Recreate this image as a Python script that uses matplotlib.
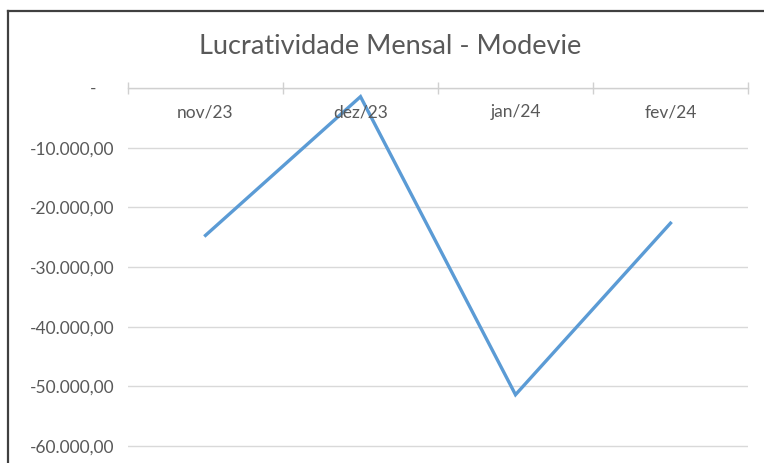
import matplotlib
matplotlib.use("Agg")
import matplotlib.pyplot as plt
from matplotlib.lines import Line2D

# data
meses = ["nov/23", "dez/23", "jan/24", "fev/24"]
lucro = [-24700, -1450, -51400, -22650]
y_ticks = [0, -10000, -20000, -30000, -40000, -50000, -60000]

titulo = "Lucratividade Mensal - Modevie"

plt.rcParams['font.family'] = ['Lato', 'DejaVu Sans']

def fmt_br(v):
    if v == 0:
        return "-    "
    s = f"{v:,.2f}"
    return s.replace(",", "X").replace(".", ",").replace("X", ".")

fig = plt.figure(figsize=(7.64, 4.63), dpi=100)
# 0 sits at y=88px, -60000 at y=446px; axes runs a bit lower so the last gridline shows
ax = fig.add_axes([128 / 764, 1 - 452 / 463, 620 / 764, (452 - 88) / 463])

x = list(range(len(meses)))
ax.plot(x, lucro, color="#5B9BD5", linewidth=2.4, solid_joinstyle="miter", zorder=3)

ax.set_xlim(-0.5, len(meses) - 0.5)
ax.set_ylim(-61000, 0)
ax.set_yticks(y_ticks)
ax.set_yticklabels([fmt_br(v) for v in y_ticks])
ax.tick_params(axis="y", length=0, pad=10, labelsize=12.5, labelcolor="#595959")
ax.grid(axis="y", color="#d9d9d9", linewidth=1)
ax.set_axisbelow(True)

for s in ["left", "right", "bottom"]:
    ax.spines[s].set_visible(False)
ax.spines["top"].set_color("#d0d0d0")
ax.spines["top"].set_linewidth(1)

# category boundary ticks on the top axis
ax.xaxis.tick_top()
ax.set_xticks([i - 0.5 for i in range(len(meses) + 1)])
ax.set_xticklabels([])
ax.tick_params(axis="x", direction="inout", length=8, color="#d0d0d0", width=1)

for i, m in enumerate(meses):
    ax.annotate(m, (i, 0), xytext=(0, -17.5), textcoords="offset points",
                ha="center", va="center", fontsize=12.5, color="#595959")

fig.text(390 / 764, 1 - 46 / 463, titulo, ha="center", va="center",
         fontsize=19.5, color="#595959")

# outer chart frame (left and top edges visible in the crop)
fig.add_artist(Line2D([8 / 764, 8 / 764], [0, 1 - 11 / 463], transform=fig.transFigure,
                      color="#404040", linewidth=1.6))
fig.add_artist(Line2D([8 / 764, 1], [1 - 11 / 463, 1 - 11 / 463], transform=fig.transFigure,
                      color="#404040", linewidth=1.6))

fig.savefig("out.png", dpi=100)
